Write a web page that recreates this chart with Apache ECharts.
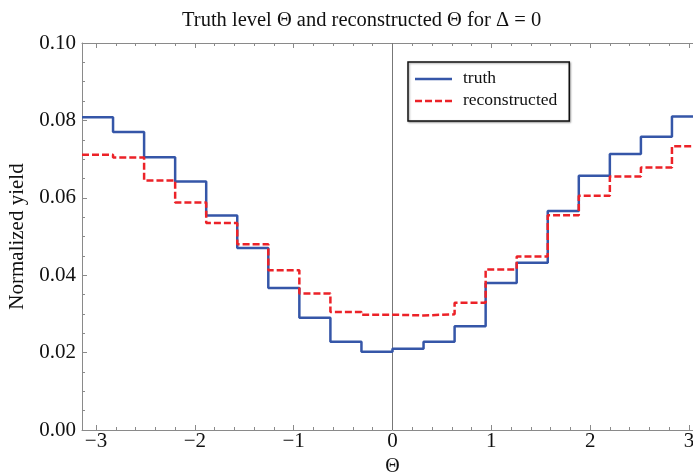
<!DOCTYPE html>
<html>
<head>
<meta charset="utf-8">
<script src="https://cdn.jsdelivr.net/npm/echarts@6/dist/echarts.min.js"></script>
<style>
html,body{margin:0;padding:0;background:#fff;overflow:hidden;width:693px;height:473px;}
#wrap{position:relative;width:693px;height:473px;overflow:hidden;}
#c{position:absolute;left:0;top:0;width:712px;height:473px;}
</style>
</head>
<body>
<div id="wrap"><div id="c"></div></div>
<script>
// Histogram: 20 bins over [-pi, pi]
const xMin = -Math.PI;
const xMax = Math.PI;
const nBins = 20;
const truth = [0.0808, 0.0770, 0.0705, 0.0642, 0.0554, 0.0470, 0.0367, 0.0290, 0.0228, 0.0202,
               0.0210, 0.0228, 0.0268, 0.0380, 0.0432, 0.0566, 0.0657, 0.0713, 0.0758, 0.0810];
const reco  = [0.0711, 0.0704, 0.0645, 0.0588, 0.0535, 0.0480, 0.0413, 0.0353, 0.0305, 0.0298,
               0.0296, 0.0299, 0.0329, 0.0415, 0.0448, 0.0555, 0.0605, 0.0655, 0.0678, 0.0733];
const yTicks = [0.00, 0.02, 0.04, 0.06, 0.08, 0.10];
const titleText = 'Truth level \u0398 and reconstructed \u0398 for \u0394 = 0';
const seriesNames = ['truth', 'reconstructed'];
const blue = '#3556a8';
const red = '#ec2228';

function stepData(vals) {
  const w = (xMax - xMin) / nBins;
  const d = vals.map((v, i) => [xMin + i * w, v]);
  d.push([xMax, vals[vals.length - 1]]);
  return d;
}

const serif = '"Liberation Serif", "DejaVu Serif", serif';
const frameColor = '#8a8a8a';
// legend icons: 37x14 box with a 2.5px line (corner specks fix the bounding box)
const speck = 'M0,0h0.01v0.01h-0.01Z M36.99,13.99h0.01v0.01h-0.01Z ';
const solidIcon = 'path://' + speck + 'M0,6.75H37V9.25H0Z';
const dashIcon = 'path://' + speck + 'M0,6.75H7V9.25H0Z M10,6.75H17V9.25H10Z M20,6.75H27V9.25H20Z M30,6.75H37V9.25H30Z';

const chart = echarts.init(document.getElementById('c'), null, {renderer: 'canvas', width: 712, height: 473});

const xCommon = {
  type: 'value', min: xMin, max: xMax, minInterval: 1, maxInterval: 1,
  axisLine: {show: true, onZero: false, lineStyle: {color: frameColor, width: 1}},
  axisTick: {show: true, inside: true, length: 5, lineStyle: {color: frameColor}},
  minorTick: {show: true, splitNumber: 5, length: 3, lineStyle: {color: frameColor}},
  splitLine: {show: false}
};

chart.setOption({
  animation: false,
  backgroundColor: '#fff',
  title: {
    text: titleText, left: 177, top: 5,
    textStyle: {fontFamily: serif, fontSize: 20.5, fontWeight: 'normal', color: '#111'}
  },
  grid: {left: 82, right: 9, top: 43, bottom: 43, containLabel: false, outerBoundsMode: 'none'},
  legend: {
    orient: 'vertical', left: 408, top: 62,
    data: [{name: seriesNames[0], icon: solidIcon}, {name: seriesNames[1], icon: dashIcon}],
    itemWidth: 37, itemHeight: 14, itemGap: 4,
    padding: [7, 12, 12, 7],
    borderColor: '#111', borderWidth: 1.5, backgroundColor: '#fff',
    shadowColor: 'rgba(0,0,0,0.35)', shadowBlur: 2, shadowOffsetX: 1, shadowOffsetY: 1,
    textStyle: {fontFamily: serif, fontSize: 17.5, color: '#111', padding: [0, 0, 0, 6]}
  },
  xAxis: [
    Object.assign({}, xCommon, {
      position: 'bottom',
      name: '\u0398', nameLocation: 'middle', nameGap: 27,
      nameTextStyle: {fontFamily: serif, fontSize: 20, color: '#111'},
      axisLabel: {
        show: true, margin: 1, showMinLabel: false, showMaxLabel: false,
        fontFamily: serif, fontSize: 21, color: '#111',
        formatter: v => (v < 0 ? '\u2212' + Math.abs(v) : String(v))
      }
    }),
    Object.assign({}, xCommon, {position: 'top', axisLabel: {show: false}})
  ],
  yAxis: [
    {
      type: 'value', min: yTicks[0], max: yTicks[yTicks.length - 1], interval: 0.02,
      position: 'left',
      name: 'Normalized yield', nameLocation: 'middle', nameGap: 45, nameRotate: 90,
      nameTextStyle: {fontFamily: serif, fontSize: 21, color: '#111'},
      axisLine: {show: true, onZero: false, lineStyle: {color: frameColor, width: 1}},
      axisTick: {show: true, inside: true, length: 5, lineStyle: {color: frameColor}},
      minorTick: {show: true, splitNumber: 4, length: 3, lineStyle: {color: frameColor}},
      splitLine: {show: false},
      axisLabel: {
        margin: 6, fontFamily: serif, fontSize: 21, color: '#111',
        formatter: v => v.toFixed(2)
      }
    },
    {
      type: 'value', min: yTicks[0], max: yTicks[yTicks.length - 1], interval: 0.02,
      position: 'right',
      axisLine: {show: true, onZero: false, lineStyle: {color: frameColor, width: 1}},
      axisTick: {show: true, inside: true, length: 5, lineStyle: {color: frameColor}},
      minorTick: {show: true, splitNumber: 4, length: 3, lineStyle: {color: frameColor}},
      splitLine: {show: false},
      axisLabel: {show: false}
    }
  ],
  series: [
    {
      name: seriesNames[0], type: 'line', step: 'end', data: stepData(truth),
      xAxisIndex: 0, yAxisIndex: 0,
      symbol: 'none', showSymbol: false, z: 3,
      lineStyle: {color: blue, width: 2.5},
      itemStyle: {color: blue},
      markLine: {
        silent: true, symbol: ['none', 'none'], label: {show: false},
        lineStyle: {color: '#777', width: 1, type: 'solid'},
        data: [{xAxis: 0}], z: 1
      }
    },
    {
      name: seriesNames[1], type: 'line', step: 'end', data: stepData(reco),
      xAxisIndex: 0, yAxisIndex: 0,
      symbol: 'none', showSymbol: false, z: 4,
      lineStyle: {color: red, width: 2.5, type: [7, 3]},
      itemStyle: {color: red}
    }
  ]
});
</script>
</body>
</html>
